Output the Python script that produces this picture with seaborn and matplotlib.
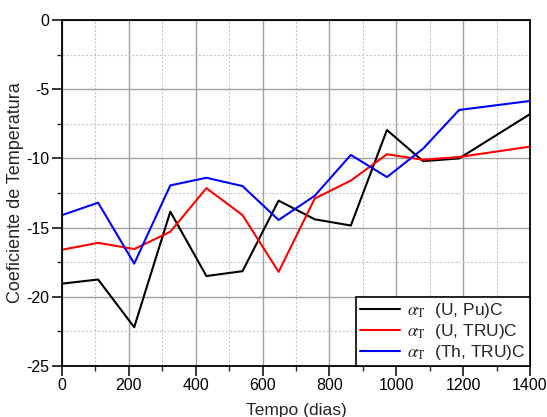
import matplotlib
matplotlib.use("Agg")
import matplotlib.pyplot as plt
from matplotlib.ticker import MultipleLocator
import seaborn as sns
import pandas as pd

tempo = [0, 108, 216, 324, 432, 540, 648, 756, 864, 972, 1080, 1188, 1400]
u_pu = [-19.05, -18.75, -22.2, -13.85, -18.5, -18.15, -13.05, -14.4, -14.85, -7.95, -10.2, -10.0, -6.8]
u_tru = [-16.6, -16.1, -16.55, -15.3, -12.15, -14.1, -18.2, -12.9, -11.6, -9.7, -10.1, -9.9, -9.15]
th_tru = [-14.1, -13.2, -17.6, -11.95, -11.4, -12.0, -14.45, -12.7, -9.75, -11.35, -9.3, -6.5, -5.85]

labels = [r"$\alpha_{\rm T}$  (U, Pu)C", r"$\alpha_{\rm T}$  (U, TRU)C", r"$\alpha_{\rm T}$  (Th, TRU)C"]
colors = ["black", "red", "blue"]

sns.set_style("white")
plt.rcParams["font.family"] = ["Liberation Sans", "DejaVu Sans"]
plt.rcParams["mathtext.fontset"] = "stix"
plt.rcParams["axes.unicode_minus"] = False

df = pd.concat([
    pd.DataFrame({"Tempo": tempo, "Coef": vals, "Serie": lab})
    for vals, lab in zip([u_pu, u_tru, th_tru], labels)
])

fig = plt.figure(figsize=(5.47, 4.17), dpi=100)
ax = fig.add_axes([62/547, 1-366/417, (530-62)/547, (366-20)/417])

sns.lineplot(data=df, x="Tempo", y="Coef", hue="Serie", palette=colors, ax=ax,
             linewidth=1.5, sort=False, estimator=None)

ax.set_xlim(0, 1400)
ax.set_ylim(-25, 0)
ax.xaxis.set_major_locator(MultipleLocator(200))
ax.xaxis.set_minor_locator(MultipleLocator(100))
ax.yaxis.set_major_locator(MultipleLocator(5))
ax.yaxis.set_minor_locator(MultipleLocator(2.5))
ax.grid(True, which="major", color="#a0a0a0", linewidth=1.0, linestyle="-")
ax.grid(True, which="minor", color="#c8c8c8", linewidth=0.8, linestyle=(0, (2, 1.5)))
ax.set_axisbelow(True)
for s in ax.spines.values():
    s.set_color("black")
    s.set_linewidth(1.3)
    s.set_visible(True)
ax.tick_params(which="major", direction="out", length=7, width=1.1, labelsize=11.5,
               bottom=True, left=True, colors="black", pad=2)
ax.tick_params(which="minor", direction="out", length=3.5, width=1.0, bottom=True, left=True)
ax.set_xlabel("Tempo (dias)", fontsize=12.5, labelpad=7)
ax.set_ylabel("Coeficiente de Temperatura", fontsize=13, labelpad=2)

leg = ax.legend(loc="lower right", fontsize=12.5, frameon=True, fancybox=False,
                edgecolor="black", borderpad=0.25, handlelength=2.3, labelspacing=0.1,
                borderaxespad=0.0, handletextpad=0.4)
leg.get_frame().set_linewidth(1.2)
leg.get_frame().set_alpha(1)

fig.savefig("out.png", dpi=100)
